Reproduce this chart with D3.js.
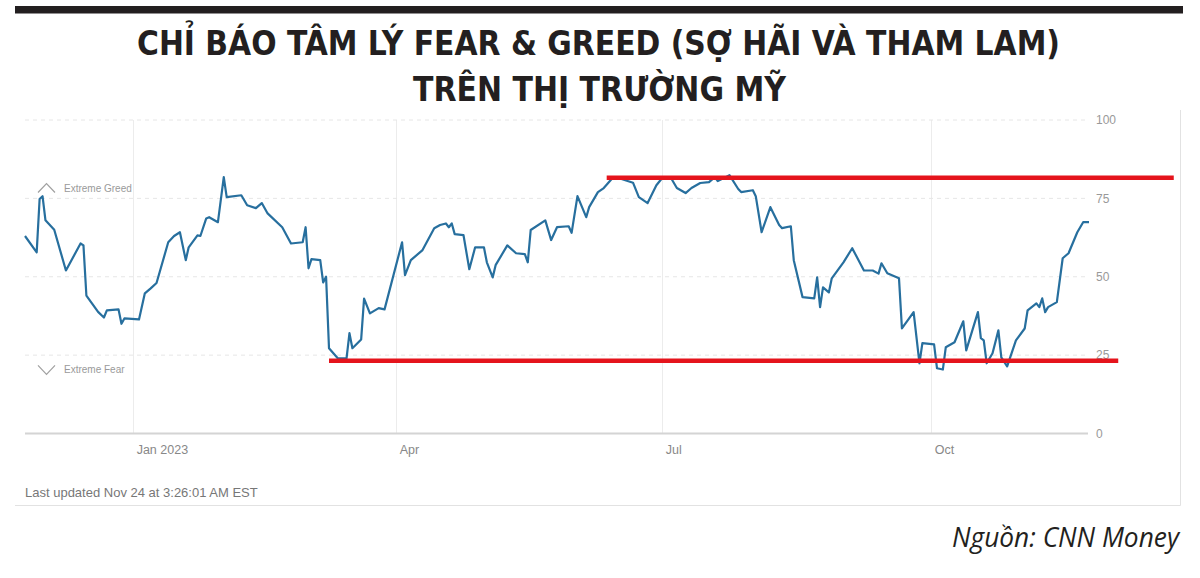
<!DOCTYPE html>
<html>
<head>
<meta charset="utf-8">
<script src="https://cdn.jsdelivr.net/npm/d3@7"></script>
<style>
  html, body { margin: 0; padding: 0; background: #fff; }
  svg { display: block; }
</style>
</head>
<body>
<svg id="chart" width="1200" height="578"></svg>
<script>
// ---------- DATA ----------
const titleLines = ["CHỈ BÁO TÂM LÝ FEAR & GREED (SỢ HÃI VÀ THAM LAM)", "TRÊN THỊ TRƯỜNG MỸ"];
const sourceText = "Nguồn: CNN Money";
const footerText = "Last updated Nov 24 at 3:26:01 AM EST";

const dates = [
  "2022-11-25","2022-11-29","2022-11-30","2022-12-01","2022-12-02","2022-12-05","2022-12-09","2022-12-14","2022-12-15","2022-12-16",
  "2022-12-20","2022-12-22","2022-12-23","2022-12-27","2022-12-28","2022-12-29","2023-01-03","2023-01-05","2023-01-07","2023-01-09",
  "2023-01-13","2023-01-15","2023-01-17","2023-01-19","2023-01-20","2023-01-23","2023-01-24","2023-01-26","2023-01-27","2023-01-30",
  "2023-02-01","2023-02-02","2023-02-07","2023-02-09","2023-02-12","2023-02-14","2023-02-16","2023-02-21","2023-02-24","2023-02-28",
  "2023-03-01","2023-03-02","2023-03-03","2023-03-06","2023-03-07","2023-03-08","2023-03-09","2023-03-12","2023-03-15","2023-03-16",
  "2023-03-17","2023-03-20","2023-03-21","2023-03-23","2023-03-26","2023-03-28","2023-04-03","2023-04-04","2023-04-06","2023-04-10",
  "2023-04-14","2023-04-16","2023-04-18","2023-04-19","2023-04-20","2023-04-21","2023-04-24","2023-04-26","2023-04-28","2023-05-01",
  "2023-05-02","2023-05-04","2023-05-05","2023-05-09","2023-05-12","2023-05-15","2023-05-16","2023-05-17","2023-05-22","2023-05-24",
  "2023-05-26","2023-05-30","2023-05-31","2023-06-02","2023-06-05","2023-06-06","2023-06-09","2023-06-11","2023-06-14","2023-06-16",
  "2023-06-21","2023-06-23","2023-06-26","2023-06-29","2023-07-01","2023-07-04","2023-07-06","2023-07-09","2023-07-11","2023-07-14",
  "2023-07-17","2023-07-19","2023-07-20","2023-07-24","2023-07-27","2023-07-28","2023-08-01","2023-08-02","2023-08-04","2023-08-07",
  "2023-08-10","2023-08-11","2023-08-14","2023-08-15","2023-08-18","2023-08-22","2023-08-23","2023-08-24","2023-08-25","2023-08-27",
  "2023-08-28","2023-09-01","2023-09-04","2023-09-08","2023-09-11","2023-09-13","2023-09-14","2023-09-16","2023-09-20","2023-09-21",
  "2023-09-25","2023-09-27","2023-09-28","2023-10-02","2023-10-03","2023-10-05","2023-10-06","2023-10-09","2023-10-12","2023-10-13",
  "2023-10-17","2023-10-18","2023-10-19","2023-10-20","2023-10-22","2023-10-24","2023-10-25","2023-10-27","2023-10-30","2023-11-02",
  "2023-11-03","2023-11-06","2023-11-07","2023-11-08","2023-11-09","2023-11-10","2023-11-13","2023-11-15","2023-11-17","2023-11-20",
  "2023-11-22","2023-11-24"
];
const values = [
  63, 57.8, 74.8, 75.7, 68, 65, 52, 60.6, 60, 44,
  38.8, 37, 39.3, 39.6, 35, 36.7, 36.4, 44.7, 46.3, 48,
  61, 63, 64.2, 55.3, 59.4, 63.2, 63, 68.6, 69, 67.4,
  81.8, 75.4, 76, 72.8, 71.9, 73.5, 70.2, 65.8, 60.6, 61,
  65.8, 52.7, 55.6, 55.3, 48.2, 50, 27.2, 24, 24, 32,
  27.2, 30, 43, 38.3, 40, 39.6, 61, 50.5, 55.3, 58.5,
  65.5, 66.5, 67, 65.8, 67, 63.6, 63.3, 52.4, 59.4, 59.4,
  54.6, 49.8, 53.7, 60, 57.5, 57.2, 54.6, 64.9, 68, 61.7,
  65.8, 66.1, 64, 75.7, 69, 72.2, 77, 78.3, 81.5, 81.5,
  80, 75.4, 73.5, 79.2, 81.5, 81.5, 78.3, 76.7, 78.3, 79.9,
  80.2, 81.8, 80.5, 82.4, 78, 77, 77.6, 75.7, 64.2, 72.2,
  66.5, 65.5, 66.1, 55.3, 43.5, 43.1, 49.8, 40.3, 46.6, 45,
  49.5, 54.6, 59.1, 52, 52, 51, 54.3, 51.1, 49.5, 33.5,
  38.7, 22.4, 28.8, 28.4, 20.8, 20.4, 27.5, 29.1, 35.8, 26.5,
  38.7, 30.4, 29.7, 22.4, 25.6, 32.9, 24.3, 21.4, 29.7, 33.5,
  39.3, 41.5, 40.3, 43.1, 38.7, 40.3, 41.9, 55.9, 57.5, 64.2,
  67.4, 67.4
];

const yTicks = [0, 25, 50, 75, 100];
const xTickDates = ["2023-01-01", "2023-04-01", "2023-07-01", "2023-10-01"];
const xTickLabels = ["Jan 2023", "Apr", "Jul", "Oct"];

// red annotation lines (highlighted resistance/support levels)
const redLevels = [81.6, 23.2];
const redStarts = ["2023-06-12", "2023-03-09"];
const redEnds = ["2023-12-23", "2023-12-04"];

const zoneLabels = ["Extreme Greed", "Extreme Fear"];
const zoneLevels = [78.3, 20.3];

// ---------- DRAW ----------
const parse = d3.timeParse("%Y-%m-%d");
const data = dates.map((d, i) => ({ date: parse(d), value: values[i] }));

const svg = d3.select("#chart");

const x = d3.scaleTime()
  .domain([parse("2022-11-25"), parse("2023-11-24")])
  .range([25, 1089]);
const y = d3.scaleLinear().domain([0, 100]).range([433.5, 120]);

// top black bar
svg.append("rect").attr("x", 15).attr("y", 6).attr("width", 1168).attr("height", 7.5).attr("fill", "#231f20");

// title
const titleFont = "'Liberation Sans Narrow', 'Arial Narrow', 'DejaVu Sans Condensed', sans-serif";
const titleSpecs = [{ y: 54.5, len: 923, cx: 598.5 }, { y: 100.5, len: 373, cx: 599.5 }];
titleLines.forEach((t, i) => {
  svg.append("text")
    .attr("x", titleSpecs[i].cx).attr("y", titleSpecs[i].y)
    .attr("text-anchor", "middle")
    .attr("font-family", titleFont)
    .attr("font-weight", "bold")
    .attr("font-size", 33.5)
    .attr("fill", "#231f20")
    .attr("textLength", titleSpecs[i].len)
    .attr("lengthAdjust", "spacingAndGlyphs")
    .text(t);
});

// panel border (right + bottom)
svg.append("line").attr("x1", 1180.5).attr("x2", 1180.5).attr("y1", 110).attr("y2", 505.5)
  .attr("stroke", "#e2e2e2").attr("stroke-width", 1);
svg.append("line").attr("x1", 15).attr("x2", 1180.5).attr("y1", 505.5).attr("y2", 505.5)
  .attr("stroke", "#e2e2e2").attr("stroke-width", 1.2);

const g = svg.append("g");

// vertical grid lines
g.selectAll(".vgrid").data(xTickDates).join("line")
  .attr("x1", d => Math.round(x(parse(d))) + 0.5)
  .attr("x2", d => Math.round(x(parse(d))) + 0.5)
  .attr("y1", y(100)).attr("y2", y(0))
  .attr("stroke", "#ececec").attr("stroke-width", 1);

// horizontal grid lines
g.selectAll(".hgrid").data(yTicks).join("line")
  .attr("x1", 25).attr("x2", 1088)
  .attr("y1", d => y(d)).attr("y2", d => y(d))
  .attr("stroke", d => d === 0 ? "#d4d4d4" : "#e6e6e6")
  .attr("stroke-width", d => d === 0 ? 2 : 1)
  .attr("stroke-dasharray", d => d === 0 ? null : "4,4");

// y axis labels on the right
const yAxis = d3.axisRight(y).tickValues(yTicks).tickSize(0).tickPadding(0).tickFormat(d3.format("d"));
const ya = svg.append("g").attr("transform", "translate(1096,0)").call(yAxis);
ya.select(".domain").remove();
ya.selectAll("text")
  .attr("font-family", "'Liberation Sans', Arial, sans-serif")
  .attr("font-size", 12).attr("fill", "#999");

// x axis labels
const xAxis = d3.axisBottom(x)
  .tickValues(xTickDates.map(parse))
  .tickSize(0).tickPadding(0)
  .tickFormat((d, i) => xTickLabels[i]);
const xa = svg.append("g").attr("transform", "translate(0,445)").call(xAxis);
xa.select(".domain").remove();
xa.selectAll("text")
  .attr("text-anchor", "start")
  .attr("dx", 3)
  .attr("dy", "0.71em")
  .attr("y", 0)
  .attr("font-family", "'Liberation Sans', Arial, sans-serif")
  .attr("font-size", 12.5).attr("fill", "#888");

// zone labels with chevrons
zoneLabels.forEach((lab, i) => {
  const cy = y(zoneLevels[i]);
  const up = i === 0;
  const path = up
    ? `M38,${cy + 4.5} L46.5,${cy - 4.5} L55,${cy + 4.5}`
    : `M38,${cy - 4.5} L46.5,${cy + 4.5} L55,${cy - 4.5}`;
  svg.append("path").attr("d", path).attr("fill", "none")
    .attr("stroke", "#a0a0a0").attr("stroke-width", 1.2);
  svg.append("text").attr("x", 64).attr("y", cy + 3.5)
    .attr("font-family", "'Liberation Sans', Arial, sans-serif")
    .attr("font-size", 10).attr("fill", "#9a9a9a")
    .text(lab);
});

// main line
const line = d3.line().x(d => x(d.date)).y(d => y(d.value)).curve(d3.curveLinear);
g.append("path").datum(data)
  .attr("d", line)
  .attr("fill", "none")
  .attr("stroke", "#276f9e")
  .attr("stroke-width", 2.2)
  .attr("stroke-linejoin", "round");

// red annotation lines
svg.selectAll(".red").data(redLevels).join("line")
  .attr("x1", (d, i) => x(parse(redStarts[i])))
  .attr("x2", (d, i) => x(parse(redEnds[i])))
  .attr("y1", d => y(d)).attr("y2", d => y(d))
  .attr("stroke", "#e5141c").attr("stroke-width", 4.5);

// footer
svg.append("text").attr("x", 25).attr("y", 496.5)
  .attr("font-family", "'Liberation Sans', Arial, sans-serif")
  .attr("font-size", 13).attr("fill", "#777")
  .text(footerText);

// source
svg.append("text").attr("x", 1179).attr("y", 547)
  .attr("text-anchor", "end")
  .attr("font-family", "'Open Sans', 'Noto Sans', sans-serif")
  .attr("font-style", "italic")
  .attr("font-size", 27)
  .attr("fill", "#231f20")
  .attr("textLength", 227)
  .attr("lengthAdjust", "spacingAndGlyphs")
  .text(sourceText);
</script>
</body>
</html>
